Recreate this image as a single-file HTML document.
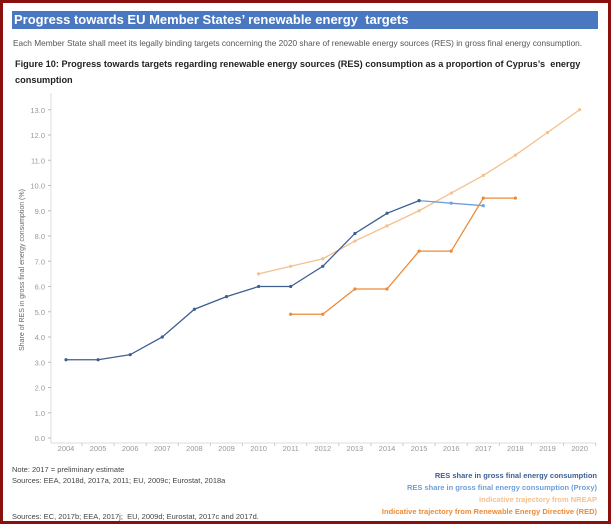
<!DOCTYPE html>
<html><head><meta charset="utf-8"><style>
body{margin:0;width:611px;height:524px;overflow:hidden;background:#fff;font-family:"Liberation Sans",sans-serif;}
#frame{position:absolute;left:0;top:0;width:605px;height:518px;border:3px solid #8a1010;}
#titlebar{position:absolute;left:12px;top:11px;width:586px;height:18px;background:#4a78c0;color:#fff;font-size:13px;font-weight:bold;line-height:18px;padding-left:2px;box-sizing:border-box;}
.t{position:absolute;white-space:nowrap;}
</style></head><body>
<div id="frame"></div>
<div id="titlebar">Progress towards EU Member States’ renewable energy&nbsp; targets</div>
<div class="t" style="left:13px;top:38px;font-size:8.3px;color:#555;">Each Member State shall meet its legally binding targets concerning the 2020 share of renewable energy sources (RES) in gross final energy consumption.</div>
<div class="t" style="left:15px;top:56px;font-size:9.2px;font-weight:bold;color:#222;line-height:16px;">Figure 10: Progress towards targets regarding renewable energy sources (RES) consumption as a proportion of Cyprus’s&nbsp; energy<br>consumption</div>
<svg id="chart" width="611" height="524" style="position:absolute;left:0;top:0"></svg>
<div class="t" style="left:12px;top:465px;font-size:7.5px;color:#444;">Note: 2017 = preliminary estimate</div>
<div class="t" style="left:12px;top:476px;font-size:7.5px;color:#444;">Sources: EEA, 2018d, 2017a, 2011; EU, 2009c; Eurostat, 2018a</div>
<div class="t" style="left:12px;top:512px;font-size:7.5px;color:#444;">Sources: EC, 2017b; EEA, 2017j;&nbsp; EU, 2009d; Eurostat, 2017c and 2017d.</div>
<div class="t" style="right:14px;top:471px;font-size:7.5px;font-weight:bold;color:#3d5f91;">RES share in gross final energy consumption</div>
<div class="t" style="right:14px;top:483px;font-size:7.5px;font-weight:bold;color:#6f9fd8;">RES share in gross final energy consumption (Proxy)</div>
<div class="t" style="right:14px;top:495px;font-size:7.5px;font-weight:bold;color:#f5c08e;">Indicative trajectory from NREAP</div>
<div class="t" style="right:14px;top:507px;font-size:7.5px;font-weight:bold;color:#ee8a35;">Indicative trajectory from Renewable Energy Directive (RED)</div>
<script>
const years=[2004,2005,2006,2007,2008,2009,2010,2011,2012,2013,2014,2015,2016,2017,2018,2019,2020];
const yTicks=[0,1,2,3,4,5,6,7,8,9,10,11,12,13];
const resYears=[2004,2005,2006,2007,2008,2009,2010,2011,2012,2013,2014,2015];
const resVals=[3.1,3.1,3.3,4.0,5.1,5.6,6.0,6.0,6.8,8.1,8.9,9.4];
const proxyYears=[2015,2016,2017];
const proxyVals=[9.4,9.3,9.2];
const nreapYears=[2010,2011,2012,2013,2014,2015,2016,2017,2018,2019,2020];
const nreapVals=[6.5,6.8,7.1,7.8,8.4,9.0,9.7,10.4,11.2,12.1,13.0];
const redYears=[2011,2012,2013,2014,2015,2016,2017,2018];
const redVals=[4.9,4.9,5.9,5.9,7.4,7.4,9.5,9.5];
const NS='http://www.w3.org/2000/svg';
const svg=document.getElementById('chart');
const X=y=>66+(y-2004)*32.1;
const Y=v=>438-v*25.25;
function mk(tag,attrs){const e=document.createElementNS(NS,tag);for(const k in attrs)e.setAttribute(k,attrs[k]);svg.appendChild(e);return e;}
let e=mk('line',{x1:51,y1:93,x2:51,y2:443,stroke:'#ddd'});


e=mk('line',{x1:51,y1:443,x2:596,y2:443,stroke:'#ddd'});


yTicks.forEach(v=>{
 mk('line',{x1:48,x2:51,y1:Y(v),y2:Y(v),stroke:'#bbb'});
 const t=mk('text',{x:45,y:Y(v)+3,'text-anchor':'end','font-size':7.5,fill:'#999'});
 t.textContent=v.toFixed(1);
 
 
});
years.forEach(y=>{
 const t=mk('text',{x:X(y),y:451,'text-anchor':'middle','font-size':7.5,fill:'#999'});
 t.textContent=y;
 
 
 mk('line',{x1:X(y)+16,x2:X(y)+16,y1:443,y2:446,stroke:'#ccc'});
});
const yt=mk('text',{x:0,y:0,'text-anchor':'middle','font-size':7,fill:'#666',transform:'translate(24,270) rotate(-90)'});
yt.textContent='Share of RES in gross final energy consumption (%)';


function series(xs,vs,col,name){
 const p=mk('polyline',{points:xs.map((x,i)=>X(x)+','+Y(vs[i])).join(' '),fill:'none',stroke:col,'stroke-width':1.3});
 
 
 xs.forEach((x,i)=>{const c=mk('circle',{cx:X(x),cy:Y(vs[i]),r:1.6,fill:col});
  
  });
}
series(nreapYears,nreapVals,'#f5c08e','nreap');
series(redYears,redVals,'#ee8a35','red');
series(proxyYears,proxyVals,'#6f9fd8','proxy');
series(resYears,resVals,'#3d5f91','res');
</script>
</body></html>
